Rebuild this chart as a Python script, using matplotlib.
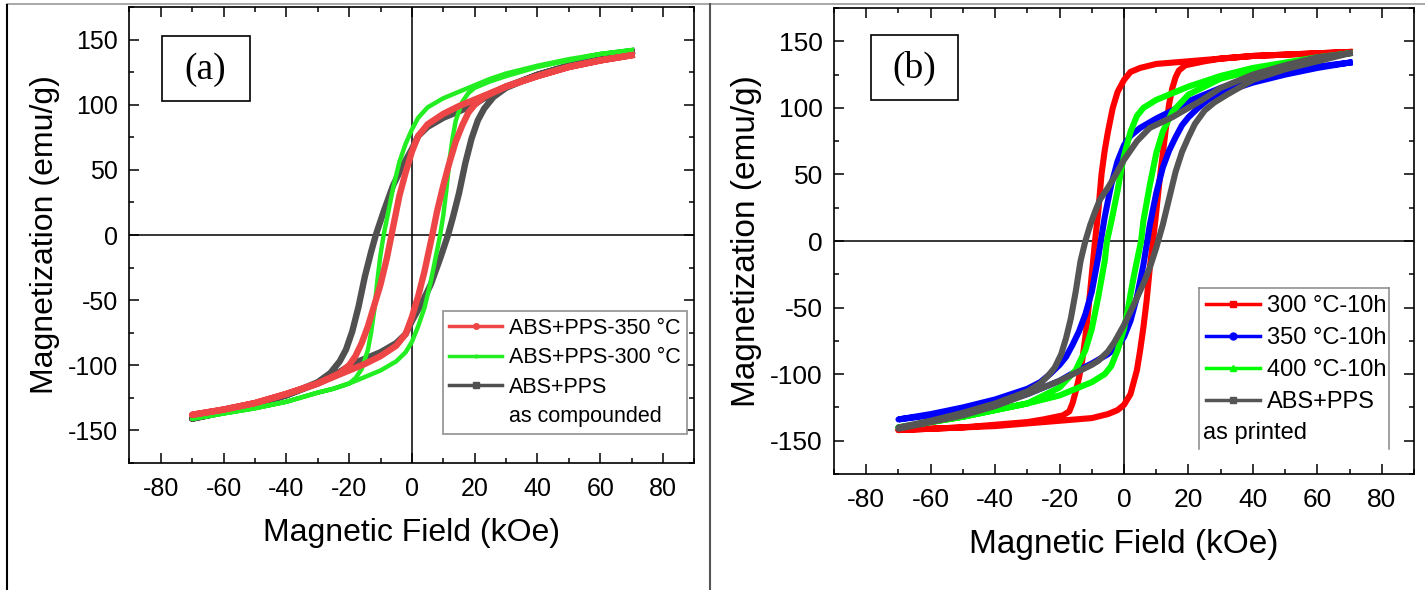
import numpy as np
import matplotlib
matplotlib.use("Agg")
import matplotlib.pyplot as plt
from matplotlib.lines import Line2D
from matplotlib.patches import Rectangle
from matplotlib.ticker import MultipleLocator

plt.rcParams['font.family'] = ['Liberation Sans', 'DejaVu Sans']
plt.rcParams['axes.unicode_minus'] = False

# ---------------- panel (a) data: (H kOe, M emu/g) per branch ----------------
a_gray_dn_h = [70, 60, 50, 40, 30, 26, 23, 21, 19, 15, 10, 5, 2, 0, -3, -6, -9, -11.5, -13, -15, -17, -19, -21, -23, -26, -30, -40, -50, -60, -70]
a_gray_dn_m = [141, 136, 130, 123, 114, 109, 105, 102, 99, 95, 90, 83, 76, 66, 53, 38, 18, 0, -13, -32, -55, -74, -88, -97, -106, -113, -123, -130, -136, -141]
a_gray_up_h = [-70, -60, -50, -40, -30, -26, -23, -21, -19, -15, -10, -5, -2, 0, 3, 6, 9, 11.5, 13, 15, 17, 19, 21, 23, 26, 30, 40, 50, 60, 70]
a_gray_up_m = [-141, -136, -130, -123, -114, -109, -105, -102, -99, -95, -90, -83, -76, -66, -53, -38, -18, 0, 13, 32, 55, 74, 88, 97, 106, 113, 123, 130, 136, 141]

a_red_dn_h = [70, 60, 50, 40, 30, 25, 20, 15, 10, 5, 2, 0, -2, -4, -6.5, -8, -10, -12, -14, -16, -18, -20, -23, -30, -40, -50, -60, -70]
a_red_dn_m = [138, 134, 129, 122, 114, 109, 104, 99, 93, 85, 76, 64, 48, 30, 0, -18, -38, -54, -70, -83, -93, -100, -106, -114, -122, -129, -134, -138]
a_red_up_h = [-70, -60, -50, -40, -30, -25, -20, -15, -10, -5, -2, 0, 2, 4, 6.5, 8, 10, 12, 14, 16, 18, 20, 23, 30, 40, 50, 60, 70]
a_red_up_m = [-138, -134, -129, -122, -114, -109, -104, -99, -93, -85, -76, -63, -47, -28, 0, 18, 38, 56, 72, 84, 94, 100, 106, 114, 122, 129, 134, 138]

a_grn_dn_h = [70, 60, 50, 40, 30, 25, 20, 15, 10, 5, 2, 0, -2, -4, -6, -8, -9, -10, -11, -12, -13, -14, -16, -18, -20, -25, -30, -40, -50, -60, -70]
a_grn_dn_m = [142, 139, 135, 130, 124, 120, 115, 110, 105, 98, 90, 81, 70, 56, 36, 12, 0, -15, -35, -58, -75, -88, -103, -110, -114, -118, -121, -128, -133, -137, -141]
a_grn_up_h = [-70, -60, -50, -40, -30, -25, -20, -15, -10, -5, -2, 0, 2, 4, 6, 8, 9, 10, 11, 12, 13, 14, 16, 18, 20, 25, 30, 40, 50, 60, 70]
a_grn_up_m = [-141, -137, -133, -128, -121, -118, -114, -109, -104, -97, -90, -82, -70, -56, -36, -12, 0, 15, 35, 58, 75, 88, 102, 109, 113, 118, 122, 129, 134, 139, 142]

# ---------------- panel (b) data ----------------
b_red_dn_h = [70, 60, 50, 40, 30, 20, 10, 5, 2, 0, -2, -3.5, -5, -6, -7, -8, -9, -10, -11, -12, -13, -14, -15, -16, -17, -19, -25, -30, -40, -50, -60, -70]
b_red_dn_m = [142, 141, 140, 139, 137, 135, 133, 130, 127, 121, 112, 100, 82, 68, 50, 22, 0, -25, -50, -72, -90, -103, -113, -122, -128, -131, -134, -136, -138, -140, -141, -142]
b_red_up_h = [-70, -60, -50, -40, -30, -20, -10, -5, -2, 0, 2, 4, 5, 6, 7, 8, 9, 10, 11, 12, 13, 14, 15, 16, 17, 19, 25, 30, 40, 50, 60, 70]
b_red_up_m = [-142, -141, -140, -139, -137, -135, -133, -130, -127, -123, -115, -97, -82, -65, -45, -20, 0, 22, 45, 65, 85, 103, 115, 123, 128, 132, 135, 137, 139, 140, 141, 142]

b_blu_dn_h = [70, 60, 50, 40, 30, 25, 20, 15, 10, 5, 2, 0, -2, -4, -6, -7.2, -8, -10, -12, -14, -16, -18, -20, -23, -26, -30, -40, -50, -60, -70]
b_blu_dn_m = [134, 131, 127, 122, 115, 110, 105, 98, 92, 85, 79, 72, 60, 42, 18, 0, -12, -38, -55, -68, -78, -87, -93, -100, -106, -111, -119, -125, -130, -134]
b_blu_up_h = [-70, -60, -50, -40, -30, -25, -20, -15, -10, -5, -2, 0, 2, 4, 6, 7.2, 8, 10, 12, 14, 16, 18, 20, 23, 26, 30, 40, 50, 60, 70]
b_blu_up_m = [-134, -131, -127, -122, -115, -110, -105, -98, -92, -85, -79, -72, -60, -42, -18, 0, 12, 36, 55, 68, 78, 87, 93, 100, 106, 111, 119, 125, 130, 134]

b_grn_dn_h = [70, 60, 50, 40, 30, 20, 15, 10, 6, 4, 2, 0, -1, -2, -3, -4, -5.3, -6, -8, -10, -12, -15, -20, -25, -30, -40, -50, -60, -70]
b_grn_dn_m = [141, 138, 134, 130, 124, 116, 111, 106, 100, 94, 82, 64, 52, 38, 26, 14, 0, -15, -42, -66, -82, -97, -110, -116, -122, -127, -132, -136, -140]
b_grn_up_h = [-70, -60, -50, -40, -30, -20, -15, -10, -6, -4, -2, 0, 1, 2, 3, 4, 5.3, 6, 8, 10, 12, 15, 20, 25, 30, 40, 50, 60, 70]
b_grn_up_m = [-140, -136, -132, -127, -122, -116, -111, -106, -100, -94, -82, -66, -54, -40, -27, -15, 0, 15, 42, 66, 82, 97, 110, 116, 122, 128, 133, 137, 141]

b_gry_dn_h = [70, 60, 55, 50, 40, 30, 23.6, 20, 15, 8, 4, 0, -3, -5, -7.5, -9, -10.5, -12, -13.5, -15, -16.5, -18, -19.5, -21.5, -23.5, -26, -30, -40, -50, -60, -70]
b_gry_dn_m = [141, 138, 135, 132, 125, 115, 105, 100, 93, 85, 75, 61, 48, 40, 31, 22, 12, 0, -15, -38, -58, -73, -85, -95, -101, -107, -113, -122, -129, -135, -140]
b_gry_up_h = [-70, -60, -50, -40, -30, -25, -20, -15, -10, -8, -5, -3, 0, 3, 6, 8, 10, 12, 14, 16, 18, 20, 22, 25, 28, 32, 40, 50, 60, 70]
b_gry_up_m = [-141, -136, -131, -124, -115, -110, -105, -99, -93, -90, -83, -76, -63, -48, -32, -20, -5, 12, 32, 52, 67, 78, 88, 98, 104, 110, 121, 129, 135, 141]

a_labels = ['ABS+PPS-350 \u00b0C', 'ABS+PPS-300 \u00b0C', 'ABS+PPS']
b_labels = ['300 \u00b0C-10h', '350 \u00b0C-10h', '400 \u00b0C-10h', 'ABS+PPS']


def style_axes(ax, fs_tick, fs_label):
    ax.set_xlim(-90, 90)
    ax.set_ylim(-175, 175)
    ax.xaxis.set_major_locator(MultipleLocator(20))
    ax.xaxis.set_minor_locator(MultipleLocator(10))
    ax.yaxis.set_major_locator(MultipleLocator(50))
    ax.yaxis.set_minor_locator(MultipleLocator(25))
    ax.tick_params(which='both', direction='in', top=True, right=True, width=1.1)
    ax.tick_params(which='major', length=7, labelsize=fs_tick)
    ax.tick_params(which='minor', length=3.5)
    ax.tick_params(axis='x', pad=10)
    ax.tick_params(axis='y', pad=8)
    for s in ax.spines.values():
        s.set_linewidth(1.2)
    ax.axhline(0, color='black', lw=1.1, zorder=1)
    ax.axvline(0, color='black', lw=1.1, zorder=1)
    ax.set_xlabel('Magnetic Field (kOe)', fontsize=fs_label, labelpad=12)
    ax.set_ylabel('Magnetization (emu/g)', fontsize=fs_label, labelpad=6)


fig = plt.figure(figsize=(14.25, 5.9), dpi=100)
axa = fig.add_axes([0.0908, 0.2153, 0.3965, 0.7727])
axb = fig.add_axes([0.5853, 0.1966, 0.407, 0.7898])

# ---- (a)
red_a, grn_a, gry_a = '#ee4646', '#22ee22', '#505050'
axa.plot(a_gray_dn_h + a_gray_up_h, a_gray_dn_m + a_gray_up_m, color=gry_a, lw=4.6, zorder=2)
axa.plot(a_grn_dn_h + a_grn_up_h, a_grn_dn_m + a_grn_up_m, color=grn_a, lw=3.2, zorder=3)
axa.plot(a_red_dn_h + a_red_up_h, a_red_dn_m + a_red_up_m, color=red_a, lw=4.6, zorder=4)
style_axes(axa, 18, 23)

hd = [Line2D([], [], color=red_a, lw=2.5, marker='o', ms=4),
      Line2D([], [], color=grn_a, lw=2.5, marker='o', ms=2),
      Line2D([], [], color=gry_a, lw=2.5, marker='s', ms=4),
      Line2D([], [], linestyle='none')]
leg = axa.legend(hd, a_labels + ['as compounded'], loc='upper left',
                 bbox_to_anchor=(0.555, 0.333), fontsize=15.5, frameon=True,
                 fancybox=False, edgecolor='#999999', framealpha=1,
                 handlelength=2.45, handletextpad=0.3, labelspacing=0.4,
                 borderpad=0.3, borderaxespad=0)
leg.get_frame().set_linewidth(1.3)

axa.add_patch(Rectangle((0.0575, 0.794), 0.1555, 0.142, transform=axa.transAxes,
                        fill=False, edgecolor='black', lw=1.2, zorder=6))
axa.text(0.135, 0.862, '(a)', transform=axa.transAxes, ha='center', va='center',
         fontsize=27, family='Liberation Serif')

# ---- (b)
red_b, blu_b, grn_b, gry_b = '#ff0000', '#0000ff', '#00ff00', '#555555'
axb.plot(b_red_dn_h + b_red_up_h, b_red_dn_m + b_red_up_m, color=red_b, lw=4.4, zorder=2)
axb.plot(b_blu_dn_h + b_blu_up_h, b_blu_dn_m + b_blu_up_m, color=blu_b, lw=4.4, zorder=3)
axb.plot(b_grn_dn_h + b_grn_up_h, b_grn_dn_m + b_grn_up_m, color=grn_b, lw=4.4, zorder=4)
axb.plot(b_gry_dn_h + b_gry_up_h, b_gry_dn_m + b_gry_up_m, color=gry_b, lw=4.4, zorder=5)
style_axes(axb, 19, 24)

hdb = [Line2D([], [], color=red_b, lw=2.5, marker='s', ms=4),
       Line2D([], [], color=blu_b, lw=2.5, marker='o', ms=5),
       Line2D([], [], color=grn_b, lw=2.5, marker='^', ms=5),
       Line2D([], [], color=gry_b, lw=2.5, marker='s', ms=4)]
axb.legend(hdb, b_labels, loc='upper left', bbox_to_anchor=(0.629, 0.399),
           fontsize=17, frameon=False, handlelength=2.3, handletextpad=0.3,
           labelspacing=0.42, borderpad=0.3, borderaxespad=0)
axb.text(0.637, 0.088, 'as printed', transform=axb.transAxes, fontsize=17,
         ha='left', va='center')
for seg in [([0.629, 0.629], [0.054, 0.399]), ([0.957, 0.957], [0.054, 0.399]),
            ([0.629, 0.957], [0.399, 0.399])]:
    axb.add_line(Line2D(seg[0], seg[1], transform=axb.transAxes, color='#888888', lw=1.1))

axb.add_patch(Rectangle((0.064, 0.803), 0.15, 0.139, transform=axb.transAxes,
                        fill=False, edgecolor='black', lw=1.2, zorder=6))
axb.text(0.138, 0.871, '(b)', transform=axb.transAxes, ha='center', va='center',
         fontsize=27, family='Liberation Serif')

# page frame lines from the original figure layout
fig.add_artist(Line2D([0.005, 1.0], [0.993, 0.993], color='#999999', lw=1.2))
fig.add_artist(Line2D([0.005, 0.005], [0.0, 0.992], color='black', lw=1.5))
fig.add_artist(Line2D([0.498, 0.498], [0.0, 0.993], color='#555555', lw=1.5))

fig.savefig('out.png', dpi=100)
